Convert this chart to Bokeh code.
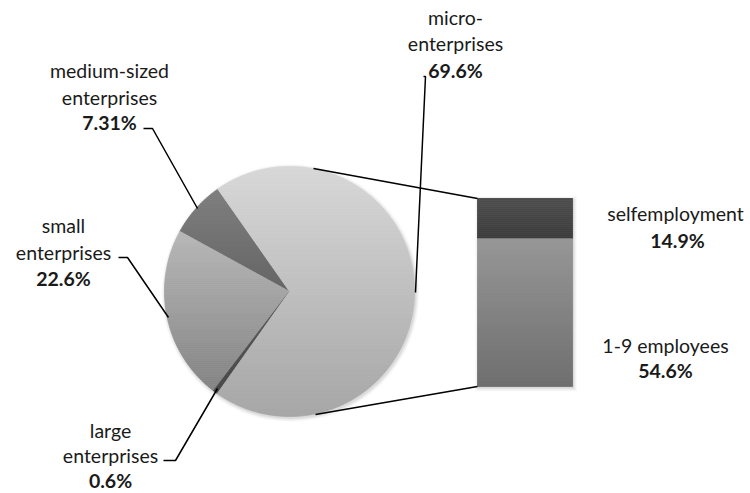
import numpy as np
from bokeh.plotting import figure
from bokeh.models import Range1d
from bokeh.embed import file_html
from bokeh.resources import INLINE
from bokeh.core.properties import value

# ---------------- data ----------------
categories = ["medium-sized enterprises", "small enterprises", "large enterprises", "micro-enterprises"]
shares = [7.31, 22.6, 0.6, 69.6]
share_labels = ["7.31%", "22.6%", "0.6%", "69.6%"]
sub_categories = ["selfemployment", "1-9 employees"]
sub_shares = [14.9, 54.6]
sub_labels = ["14.9%", "54.6%"]

# ---------------- styles ----------------
slice_colors = [((126, 126, 126), (100, 100, 100)),
                ((184, 184, 184), (132, 132, 132)),
                ((92, 92, 92), (72, 72, 72)),
                ((216, 216, 216), (166, 166, 166))]
bar_colors = [((78, 78, 78), (60, 60, 60)),
              ((150, 150, 150), (110, 110, 110))]
FONT = value("Lato")
FS = "19.5px"

PAGE_W, PAGE_H = 750, 493
def Y(py):
    return PAGE_H - py

p = figure(width=PAGE_W, height=PAGE_H, x_range=Range1d(0, PAGE_W), y_range=Range1d(0, PAGE_H),
           output_backend="svg", toolbar_location=None, min_border=0,
           x_axis_type=None, y_axis_type=None)
p.grid.visible = False
p.outline_line_color = None
p.background_fill_color = "white"

# ---------------- pie geometry ----------------
cx, cy, R = 289.0, Y(291), 125.0
start_deg = 125.0

def mix(c0, c1, t):
    t = min(max(t, 0.0), 1.0)
    return "#%02x%02x%02x" % tuple(int(round(a + (b - a) * t)) for a, b in zip(c0, c1))

def clip_half(pts, keep, yl):
    out = []
    n = len(pts)
    for i in range(n):
        P = pts[i]; Q = pts[(i + 1) % n]
        pin = keep(P[1]); qin = keep(Q[1])
        if pin:
            out.append(P)
        if pin != qin:
            t = (yl - P[1]) / (Q[1] - P[1])
            out.append((P[0] + t * (Q[0] - P[0]), yl))
    return out

def clip_band(poly, y0, y1):
    pts = clip_half(poly, lambda y: y >= y0, y0)
    if pts:
        pts = clip_half(pts, lambda y: y <= y1, y1)
    return pts

# soft shadow behind pie
for k, a in enumerate([0.05, 0.04, 0.03, 0.02]):
    p.circle(x=[cx + 1], y=[cy - 1.5], radius=R + 1.0 + k, fill_color="#000000",
             fill_alpha=a, line_color=None)

total = sum(shares)
xs_all, ys_all, cols_all = [], [], []
ang = start_deg
for v, (c_top, c_bot) in zip(shares, slice_colors):
    span = v / total * 360.0
    a0, a1 = ang, ang + span
    n = max(4, int(span * 2))
    th = np.radians(np.linspace(a0, a1, n))
    poly = [(cx, cy)] + [(cx + R * np.cos(t), cy + R * np.sin(t)) for t in th]
    ytop = max(q[1] for q in poly); ybot = min(q[1] for q in poly)
    yb = ybot
    while yb < ytop:
        yt = min(yb + 2.0, ytop)
        pts = clip_band(poly, yb, yt)
        if len(pts) >= 3:
            xs_all.append([q[0] for q in pts]); ys_all.append([q[1] for q in pts])
            tcol = (ytop - (yb + yt) / 2) / (ytop - ybot) if ytop > ybot else 0
            cols_all.append(mix(c_top, c_bot, tcol))
        yb = yt
    ang = a1
p.patches(xs=xs_all, ys=ys_all, fill_color=cols_all, line_color=cols_all, line_width=0.8)

# ---------------- bar of pie ----------------
bx0, bx1 = 477.0, 572.0
btop, bbot = Y(198), Y(386)
sub_total = sum(sub_shares)
scale = (btop - bbot) / sub_total
for k, a in enumerate([0.06, 0.04, 0.03, 0.02]):
    p.quad(left=[bx0 - k + 0.5], right=[bx1 + k + 1.5], top=[btop + k - 0.5], bottom=[bbot - k - 2.0],
           fill_color="#000000", fill_alpha=a, line_color=None)
lefts, rights, tops, bots, bcols = [], [], [], [], []
cur = btop
for v, (c_top, c_bot) in zip(sub_shares, bar_colors):
    seg_top, seg_bot = cur, cur - v * scale
    yb = seg_bot
    while yb < seg_top:
        yt = min(yb + 2.0, seg_top)
        tcol = (seg_top - (yb + yt) / 2) / (seg_top - seg_bot)
        lefts.append(bx0); rights.append(bx1); tops.append(yt); bots.append(yb)
        bcols.append(mix(c_top, c_bot, tcol))
        yb = yt
    cur = seg_bot
p.quad(left=lefts, right=rights, top=tops, bottom=bots, fill_color=bcols, line_color=bcols, line_width=0.8)

# connector lines from pie to bar
p.line(x=[313, bx0], y=[Y(168), btop], line_color="black", line_width=1.6)
p.line(x=[315, bx0], y=[Y(414), bbot], line_color="black", line_width=1.6)

# ---------------- leader lines ----------------
leaders = [
    [(143, 128), (152, 128), (197, 208)],       # medium
    [(118, 257), (127, 257), (168, 317)],       # small
    [(163, 460), (175, 460), (217, 388)],       # large
    [(423, 76), (425, 76), (415, 292)],         # micro
]
p.multi_line(xs=[[q[0] for q in L] for L in leaders], ys=[[Y(q[1]) for q in L] for L in leaders],
             line_color="black", line_width=1.5)

# ---------------- labels ----------------
label_pos = {
    "medium-sized enterprises": (109, [70, 97], 122, ["medium-sized", "enterprises"]),
    "small enterprises": (63, [225, 252], 278, ["small", "enterprises"]),
    "large enterprises": (110, [430, 455], 480, ["large", "enterprises"]),
    "micro-enterprises": (455, [17, 43], 70, ["micro-", "enterprises"]),
}
tx, ty, tt, bx_, by_, bt = [], [], [], [], [], []
for cat, lab in zip(categories, share_labels):
    x, ys, yb, lines = label_pos[cat]
    for yy, s in zip(ys, lines):
        tx.append(x); ty.append(Y(yy)); tt.append(s)
    bx_.append(x); by_.append(Y(yb)); bt.append(lab)

sub_pos = {"selfemployment": (675, 213, 677, 240), "1-9 employees": (665, 345, 665, 370)}
for cat, lab in zip(sub_categories, sub_labels):
    x1, y1, x2, y2 = sub_pos[cat]
    tx.append(x1); ty.append(Y(y1)); tt.append(cat)
    bx_.append(x2); by_.append(Y(y2)); bt.append(lab)

p.text(x=tx, y=ty, text=tt, text_font=FONT, text_font_size=FS, text_align="center",
       text_baseline="middle", text_color="#1a1a1a")
p.text(x=bx_, y=by_, text=bt, text_font=FONT, text_font_size=FS, text_font_style="bold",
       text_align="center", text_baseline="middle", text_color="#1a1a1a")

open("out.html", "w").write(file_html(p, INLINE))
